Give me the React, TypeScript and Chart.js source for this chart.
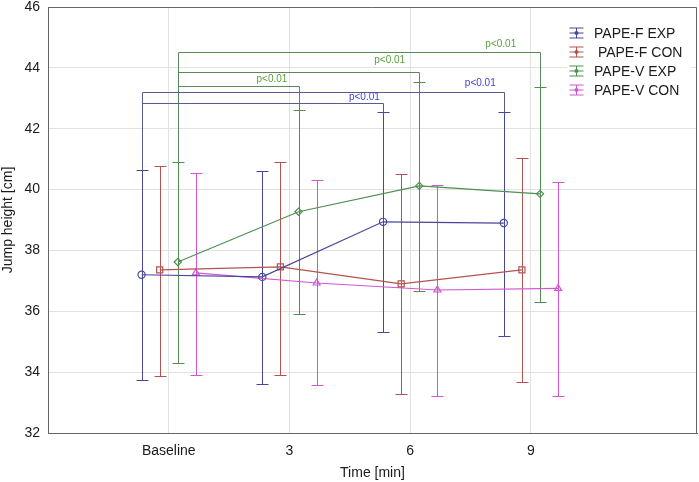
import { useEffect, useRef } from "react";
import { Chart, registerables } from "chart.js";

Chart.register(...registerables);

// ---- data ----
const categories = ["Baseline", "3", "6", "9"];
const seriesNames = ["PAPE-F EXP", " PAPE-F CON", "PAPE-V EXP", "PAPE-V CON"];

const fExpMean = [37.2, 37.13, 38.94, 38.9];
const fExpLow = [33.74, 33.61, 35.33, 35.2];
const fExpHigh = [40.64, 40.6, 42.56, 42.56];

const fConMean = [37.36, 37.46, 36.9, 37.36];
const fConLow = [33.87, 33.92, 33.29, 33.68];
const fConHigh = [40.77, 40.92, 40.51, 41.03];

const vExpMean = [37.62, 39.27, 40.12, 39.86];
const vExpLow = [34.29, 35.9, 36.67, 36.32];
const vExpHigh = [40.9, 42.62, 43.55, 43.36];

const vConMean = [37.26, 36.93, 36.7, 36.75];
const vConLow = [33.92, 33.58, 33.22, 33.2];
const vConHigh = [40.53, 40.31, 40.15, 40.26];

const yTicks = [32, 34, 36, 38, 40, 42, 44, 46];

// significance brackets (series index, from category, to category, level, label)
const bracketSeries = [2, 2, 2, 0, 0];
const bracketFrom = [0, 0, 0, 0, 0];
const bracketTo = [3, 2, 1, 3, 2];
const bracketLevel = [44.53, 43.87, 43.41, 43.21, 42.86];
const bracketLabel = ["p<0.01", "p<0.01", "p<0.01", "p<0.01", "p<0.01"];
const labelX = [2.75, 1.83, 0.855, 2.58, 1.62];
const labelY = [44.78, 44.26, 43.63, 43.5, 43.04];

// ---- styles ----
const seriesOffset = [-0.225, -0.075, 0.075, 0.225];
const seriesColor = ["#47479a", "#b5524f", "#4f8f4f", "#d355d3"];
const seriesPoint = ["circle", "rect", "rectRot", "triangle"];
const seriesRadius = [3.6, 4.3, 3.6, 4];
const bracketLine = ["#5a8a5a", "#5a8a5a", "#5a8a5a", "#5a5a8e", "#5a5a8e"];
const bracketText = ["#5a9e3c", "#5a9e3c", "#5a9e3c", "#4242d4", "#4242d4"];

const means = [fExpMean, fConMean, vExpMean, vConMean];
const lows = [fExpLow, fConLow, vExpLow, vConLow];
const highs = [fExpHigh, fConHigh, vExpHigh, vConHigh];

const FONT = "'Liberation Sans', Arial, sans-serif";

const crisp = (v: number) => Math.round(v) + 0.5;

const errorBarPlugin = {
  id: "errorBars",
  beforeDatasetsDraw(chart: any) {
    const { ctx, scales } = chart;
    const x = scales.x;
    const y = scales.y;
    ctx.save();
    ctx.lineWidth = 1;
    means.forEach((_, si) => {
      ctx.strokeStyle = seriesColor[si];
      lows[si].forEach((lo, i) => {
        const px = crisp(x.getPixelForValue(i + seriesOffset[si]));
        const yl = crisp(y.getPixelForValue(lo));
        const yh = crisp(y.getPixelForValue(highs[si][i]));
        ctx.beginPath();
        ctx.moveTo(px, yl);
        ctx.lineTo(px, yh);
        ctx.moveTo(px - 6, yl);
        ctx.lineTo(px + 6, yl);
        ctx.moveTo(px - 6, yh);
        ctx.lineTo(px + 6, yh);
        ctx.stroke();
      });
    });
    ctx.restore();
  },
};

const overlayPlugin = {
  id: "overlay",
  afterDatasetsDraw(chart: any) {
    const { ctx, scales, chartArea } = chart;
    const x = scales.x;
    const y = scales.y;
    ctx.save();
    // brackets
    ctx.lineWidth = 1;
    bracketSeries.forEach((si, b) => {
      const x0 = crisp(x.getPixelForValue(bracketFrom[b] + seriesOffset[si]));
      const x1 = crisp(x.getPixelForValue(bracketTo[b] + seriesOffset[si]));
      const yl = crisp(y.getPixelForValue(bracketLevel[b]));
      const y0 = crisp(y.getPixelForValue(highs[si][bracketFrom[b]]));
      const y1 = crisp(y.getPixelForValue(highs[si][bracketTo[b]]));
      ctx.strokeStyle = bracketLine[b];
      ctx.beginPath();
      ctx.moveTo(x0, y0);
      ctx.lineTo(x0, yl);
      ctx.lineTo(x1, yl);
      ctx.lineTo(x1, y1);
      ctx.stroke();
      ctx.fillStyle = bracketText[b];
      ctx.font = `10px ${FONT}`;
      ctx.textAlign = "center";
      ctx.textBaseline = "middle";
      ctx.fillText(bracketLabel[b], x.getPixelForValue(labelX[b]), y.getPixelForValue(labelY[b]));
    });

    // frame
    const fl = crisp(chartArea.left);
    const ft = crisp(chartArea.top);
    const fr = crisp(chartArea.right) - 1;
    const fb = crisp(chartArea.bottom);
    ctx.strokeStyle = "#666666";
    ctx.lineWidth = 1;
    ctx.beginPath();
    ctx.moveTo(fl, ft);
    ctx.lineTo(fr, ft);
    ctx.lineTo(fr, fb);
    ctx.lineTo(fl, fb);
    ctx.closePath();
    ctx.stroke();

    // legend
    const boxL = chartArea.right - 130;
    ctx.fillStyle = "#ffffff";
    ctx.fillRect(boxL, chartArea.top + 12, 124, 86);
    const symX = boxL + 9;
    const textX = boxL + 27;
    seriesNames.forEach((name, si) => {
      const cy = chartArea.top + 26 + si * 19;
      const sx = Math.round(symX) + 0.5;
      ctx.strokeStyle = seriesColor[si];
      ctx.beginPath();
      ctx.moveTo(sx, cy - 5);
      ctx.lineTo(sx, cy + 5);
      ctx.moveTo(sx - 7, cy - 5);
      ctx.lineTo(sx + 7, cy - 5);
      ctx.moveTo(sx - 7, cy + 5);
      ctx.lineTo(sx + 7, cy + 5);
      ctx.moveTo(sx - 7, cy);
      ctx.lineTo(sx + 7, cy);
      ctx.stroke();
      ctx.fillStyle = seriesColor[si];
      ctx.beginPath();
      ctx.arc(sx, cy, 2, 0, Math.PI * 2);
      ctx.fill();
      ctx.fillStyle = "#1a1a1a";
      ctx.font = `14px ${FONT}`;
      ctx.textAlign = "left";
      ctx.textBaseline = "middle";
      ctx.fillText(name, textX, cy + 1);
    });
    ctx.restore();
  },
};

export default function App() {
  const canvasRef = useRef<HTMLCanvasElement | null>(null);

  useEffect(() => {
    const canvas = canvasRef.current;
    if (!canvas) return;
    const datasets = means.map((m, si) => ({
      label: seriesNames[si],
      data: m.map((v, i) => ({ x: i + seriesOffset[si], y: v })),
      borderColor: seriesColor[si],
      backgroundColor: "rgba(255,255,255,0)",
      borderWidth: 1.2,
      pointStyle: seriesPoint[si] as any,
      pointRadius: seriesRadius[si],
      pointBorderWidth: 1.2,
      pointBorderColor: seriesColor[si],
      pointBackgroundColor: "rgba(255,255,255,0)",
      tension: 0,
      fill: false,
    }));

    const chart = new Chart(canvas, {
      type: "line",
      data: { datasets },
      options: {
        responsive: false,
        animation: false,
        devicePixelRatio: 1,
        layout: { autoPadding: false, padding: { top: 7, right: 2, left: 0, bottom: 0 } },
        plugins: { legend: { display: false }, tooltip: { enabled: false } },
        scales: {
          x: {
            type: "linear",
            min: -1,
            max: 4.375,
            afterBuildTicks: (scale: any) => {
              scale.ticks = categories.map((_, i) => ({ value: i }));
            },
            afterFit: (scale: any) => {
              scale.height = 49;
              scale.paddingLeft = 0;
              scale.paddingRight = 0;
            },
            ticks: {
              callback: (v: any) => categories[Number(v)] ?? "",
              color: "#1a1a1a",
              font: { family: FONT, size: 14 },
              padding: 10,
              maxRotation: 0,
              autoSkip: false,
            },
            grid: { color: "#e2e2e2", lineWidth: 1, drawTicks: false },
            border: { display: true, color: "#666666" },
            title: {
              display: true,
              text: "Time [min]",
              color: "#1a1a1a",
              font: { family: FONT, size: 14 },
              padding: { top: 0, bottom: 0 },
            },
          },
          y: {
            type: "linear",
            min: 32,
            max: 46,
            afterBuildTicks: (scale: any) => {
              scale.ticks = yTicks.map((v) => ({ value: v }));
            },
            afterFit: (scale: any) => {
              scale.width = 48;
              scale.paddingTop = 0;
              scale.paddingBottom = 0;
            },
            ticks: {
              color: "#1a1a1a",
              font: { family: FONT, size: 14 },
              padding: 8,
            },
            grid: { color: "#e2e2e2", lineWidth: 1, drawTicks: false },
            border: { display: true, color: "#666666" },
            title: {
              display: true,
              text: "Jump height [cm]",
              color: "#1a1a1a",
              font: { family: FONT, size: 14 },
              padding: 0,
            },
          },
        },
      },
      plugins: [errorBarPlugin, overlayPlugin],
    } as any);
    return () => chart.destroy();
  }, []);

  return (
    <div style={{ position: "absolute", left: 0, top: 0, width: 699, height: 482, background: "#fff" }}>
      <canvas ref={canvasRef} width={699} height={482} style={{ width: 699, height: 482, display: "block" }} />
    </div>
  );
}
